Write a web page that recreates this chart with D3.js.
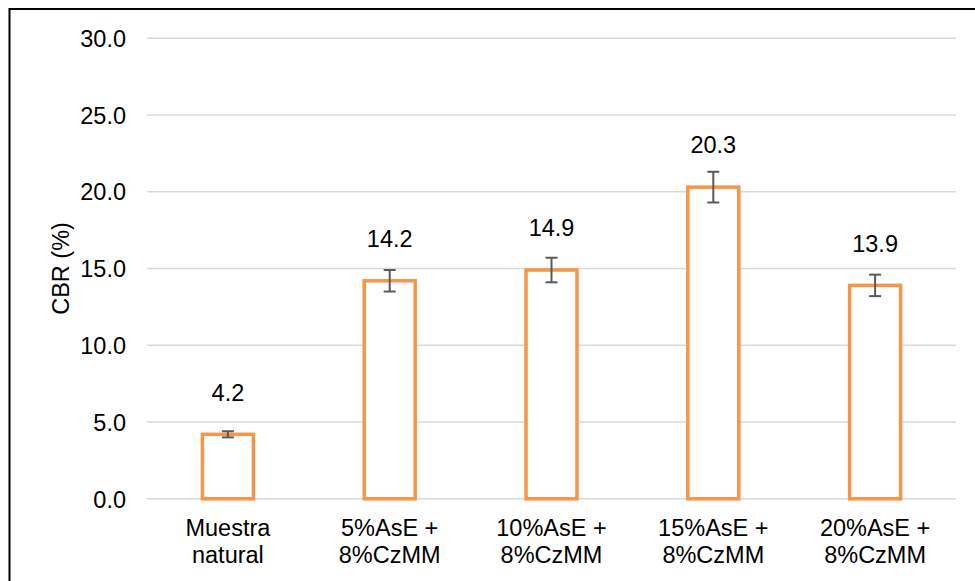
<!DOCTYPE html>
<html>
<head>
<meta charset="utf-8">
<script src="https://cdn.jsdelivr.net/npm/d3@7"></script>
<style>
  html, body { margin: 0; padding: 0; background: #fff; }
  svg { display: block; }
  text { font-family: "Liberation Sans", Arial, sans-serif; fill: #000; }
</style>
</head>
<body>
<svg id="chart" width="975" height="581"></svg>
<script>
const categories = [["Muestra", "natural"], ["5%AsE +", "8%CzMM"], ["10%AsE +", "8%CzMM"], ["15%AsE +", "8%CzMM"], ["20%AsE +", "8%CzMM"]];
const values = [4.2, 14.2, 14.9, 20.3, 13.9];
const errors = [0.2, 0.7, 0.8, 1.0, 0.7];
const yTicks = [0, 5, 10, 15, 20, 25, 30];
const yTitle = "CBR (%)";

(function () {
const svg = d3.select("#chart");
const pL = 147, pR = 956, pT = 38.2, pB = 498.8;
const fs = 23.5;

// outer border
svg.append("rect").attr("x", 9.5).attr("y", 9).attr("width", 980).attr("height", 600)
  .attr("fill", "none").attr("stroke", "#000").attr("stroke-width", 2);

const x = d3.scaleBand().domain(d3.range(values.length)).range([pL, pR]).paddingInner(0.685).paddingOuter(0.3425);
const y = d3.scaleLinear().domain([0, 30]).range([pB, pT]);

// gridlines
svg.append("g").selectAll("line").data(yTicks).join("line")
  .attr("x1", pL).attr("x2", pR)
  .attr("y1", d => y(d)).attr("y2", d => y(d))
  .attr("stroke", "#d9d9d9").attr("stroke-width", 1.5);

// y axis labels
const yAxis = d3.axisLeft(y).tickValues(yTicks).tickFormat(d3.format(".1f")).tickSize(0).tickPadding(0);
const gy = svg.append("g").attr("transform", `translate(126,0)`).call(yAxis);
gy.select(".domain").remove();
gy.selectAll("text").attr("font-size", fs).attr("font-family", '"Liberation Sans", Arial, sans-serif').attr("fill", "#000").attr("dy", "0.35em");

// y title
svg.append("text").attr("transform", `translate(69,${(pT + pB) / 2}) rotate(-90)`)
  .attr("text-anchor", "middle").attr("font-size", fs).text(yTitle);

// bars
svg.append("g").selectAll("rect").data(values).join("rect")
  .attr("x", (d, i) => x(i)).attr("width", x.bandwidth())
  .attr("y", d => y(d)).attr("height", d => y(0) - y(d))
  .attr("fill", "#fff").attr("stroke", "#F79646").attr("stroke-width", 3.5);

// error bars
const eg = svg.append("g").attr("stroke", "#595959").attr("stroke-width", 2);
values.forEach((v, i) => {
  const cx = x(i) + x.bandwidth() / 2;
  eg.append("line").attr("x1", cx).attr("x2", cx).attr("y1", y(v + errors[i])).attr("y2", y(v - errors[i]));
  [v + errors[i], v - errors[i]].forEach(e => {
    eg.append("line").attr("x1", cx - 6).attr("x2", cx + 6).attr("y1", y(e)).attr("y2", y(e));
  });
});

// value labels
svg.append("g").selectAll("text").data(values).join("text")
  .attr("x", (d, i) => x(i) + x.bandwidth() / 2)
  .attr("y", d => y(d) - 42)
  .attr("dy", "0.35em")
  .attr("text-anchor", "middle").attr("font-size", fs)
  .text(d => d3.format(".1f")(d));

// x labels
const xl = svg.append("g").selectAll("text").data(categories).join("text")
  .attr("text-anchor", "middle").attr("font-size", fs);
xl.each(function(d, i) {
  const t = d3.select(this);
  const cx = x(i) + x.bandwidth() / 2;
  t.append("tspan").attr("x", cx).attr("y", 528).attr("dy", "0.35em").text(d[0]);
  t.append("tspan").attr("x", cx).attr("y", 555).attr("dy", "0.35em").text(d[1]);
});
})();
</script>
</body>
</html>
